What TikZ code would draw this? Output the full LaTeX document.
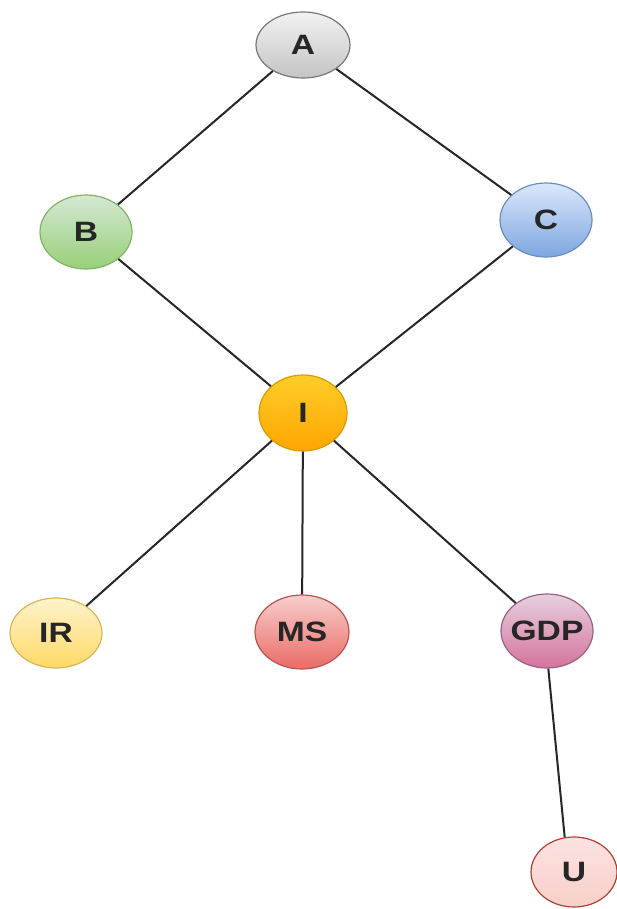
\documentclass[tikz,border=0pt]{standalone}
\usepackage{fontspec}
\setmainfont{Liberation Sans}
\usetikzlibrary{shapes.geometric}

% fill and stroke colours for the vertices
\definecolor{greyT}{HTML}{F2F2F2}   \definecolor{greyB}{HTML}{C4C4C4}   \definecolor{greyD}{HTML}{777777}
\definecolor{greenT}{HTML}{D5E8D4}  \definecolor{greenB}{HTML}{97D077}  \definecolor{greenD}{HTML}{82B366}
\definecolor{blueT}{HTML}{DAE8FC}   \definecolor{blueB}{HTML}{7EA6E0}   \definecolor{blueD}{HTML}{6C8EBF}
\definecolor{orangeT}{HTML}{FFCD28} \definecolor{orangeB}{HTML}{FFA500} \definecolor{orangeD}{HTML}{D79B00}
\definecolor{yellowT}{HTML}{FFF2CC} \definecolor{yellowB}{HTML}{FFD966} \definecolor{yellowD}{HTML}{D6B656}
\definecolor{redT}{HTML}{F8CECC}    \definecolor{redB}{HTML}{EA6B66}    \definecolor{redD}{HTML}{B85450}
\definecolor{purpleT}{HTML}{E6D0DE} \definecolor{purpleB}{HTML}{D5739D} \definecolor{purpleD}{HTML}{996185}
\definecolor{pinkT}{HTML}{FBE3E0}   \definecolor{pinkB}{HTML}{F8CFCA}   \definecolor{pinkD}{HTML}{AE4132}

\tikzset{
  vert/.style={ellipse, inner sep=0pt, line width=1.2pt,
    minimum width=92pt, minimum height=72pt,
    font=\fontsize{28}{30}\selectfont\bfseries, text=black!85},
  link/.style={line width=2pt, black!85},
  grey/.style={vert, draw=greyD, top color=greyT, bottom color=greyB},
  green/.style={vert, draw=greenD, top color=greenT, bottom color=greenB},
  blue/.style={vert, draw=blueD, top color=blueT, bottom color=blueB},
  orange/.style={vert, draw=orangeD, top color=orangeT, bottom color=orangeB},
  yellow/.style={vert, draw=yellowD, top color=yellowT, bottom color=yellowB},
  red/.style={vert, draw=redD, top color=redT, bottom color=redB},
  purple/.style={vert, draw=purpleD, top color=purpleT, bottom color=purpleB},
  pink/.style={vert, draw=pinkD, top color=pinkT, bottom color=pinkB},
}
% widened label; zero-width box so the ellipse size is set by minimum width alone
\newcommand{\wide}[1]{\makebox[0pt][c]{\scalebox{1.2}[1]{#1}}}

\begin{document}
\begin{tikzpicture}[x=1pt, y=-1pt]
  \useasboundingbox (0,0) rectangle (616,909);

  \node[grey]   (A)   at (303,45)  [minimum height=66pt, minimum width=94pt] {\wide{A}};
  \node[green]  (B)   at (86,232)  [minimum height=74pt] {\wide{B}};
  \node[blue]   (C)   at (546,220) [minimum height=74pt] {\wide{C}};
  \node[orange] (I)   at (303,413) [minimum width=88pt, minimum height=76pt] {\wide{I}};
  \node[yellow] (IR)  at (56,633)  [minimum height=70pt] {\wide{IR}};
  \node[red]    (MS)  at (302,632) [minimum width=94pt, minimum height=74pt] {\wide{MS}};
  \node[purple] (GDP) at (547,631) [minimum height=74pt] {\wide{GDP}};
  \node[pink]   (U)   at (574,872) [minimum width=86pt, minimum height=70pt] {\wide{U}};

  \draw[link] (A) -- (B);
  \draw[link] (A) -- (C);
  \draw[link] (B) -- (I);
  \draw[link] (C) -- (I);
  \draw[link] (I) -- (IR);
  \draw[link] (I) -- (MS);
  \draw[link] (I) -- (GDP);
  \draw[link] (GDP.272) -- (U.105);
\end{tikzpicture}
\end{document}
